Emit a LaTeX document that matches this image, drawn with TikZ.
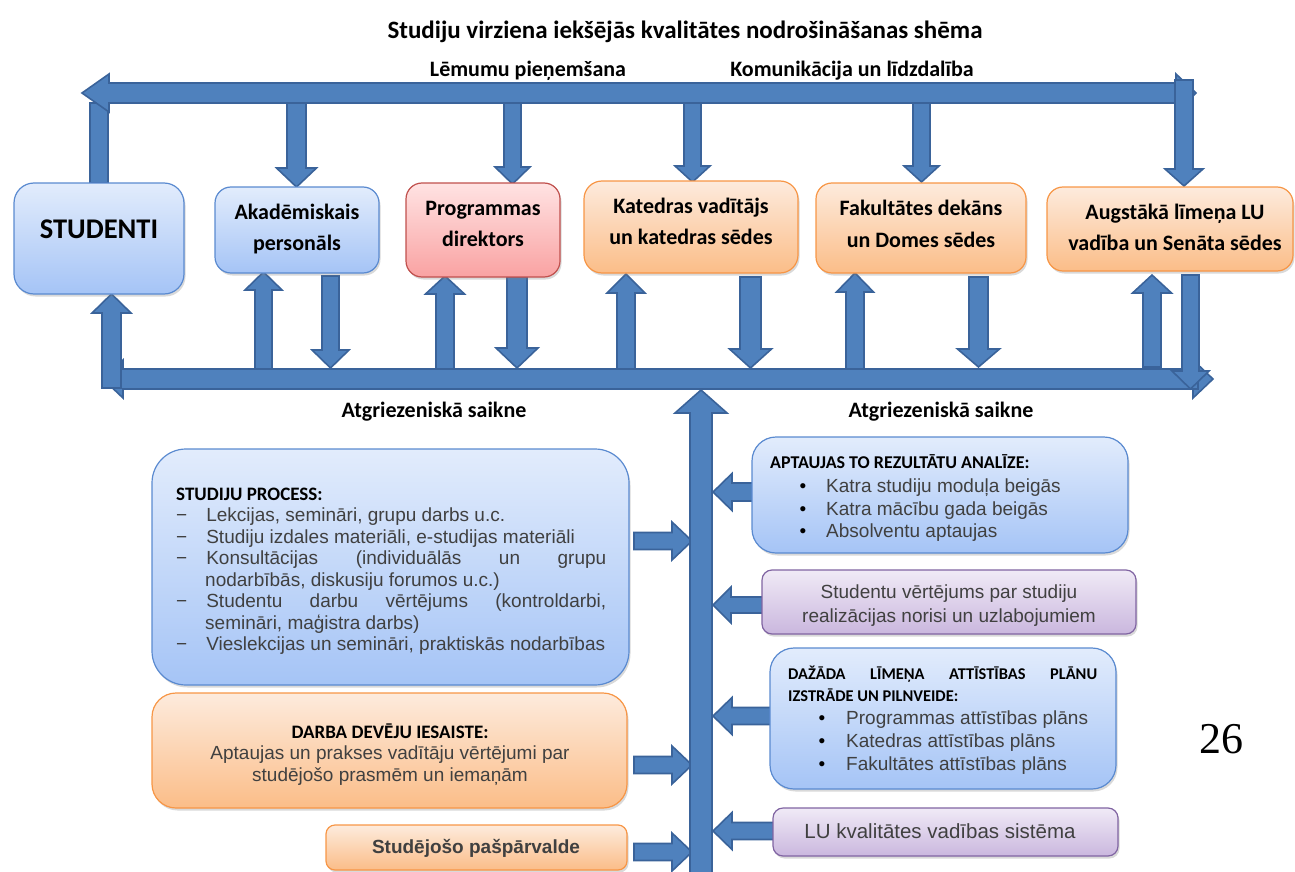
\documentclass[tikz,border=0pt]{standalone}
\usepackage{fontspec}
\setmainfont{Carlito}
\newfontfamily\arialf{Liberation Sans}
\newfontfamily\timesf{Liberation Serif}
\usetikzlibrary{calc,shadows,fit}
\definecolor{arrfill}{HTML}{4F81BD}
\definecolor{arrline}{HTML}{3A639A}
\definecolor{bluetop}{HTML}{E2ECFC}
\definecolor{bluebot}{HTML}{A5C4F6}
\definecolor{bluebd}{HTML}{5A8AD0}
\definecolor{redtop}{HTML}{FFE3E3}
\definecolor{redbot}{HTML}{F9A2A2}
\definecolor{redbd}{HTML}{C0504D}
\definecolor{orgtop}{HTML}{FDEBDD}
\definecolor{orgbot}{HTML}{FBBD88}
\definecolor{orgbd}{HTML}{F79646}
\definecolor{purtop}{HTML}{F0EAF6}
\definecolor{purbot}{HTML}{CAB7DE}
\definecolor{purbd}{HTML}{8064A2}
\definecolor{txtgrey}{HTML}{404040}
\newcommand{\fs}[1]{\fontsize{#1}{#1}\selectfont}
\newcommand{\barrow}[5]{%
  \coordinate (bA) at (#1); \coordinate (bT) at (#2);
  \coordinate (bB) at ($(bT)!#5pt!(bA)$);
  \draw[blockarr] ($(bA)!#3pt!90:(bT)$) -- ($(bB)!#3pt!90:(bT)$) -- ($(bB)!#4pt!90:(bT)$) -- (bT) -- ($(bB)!#4pt!-90:(bT)$) -- ($(bB)!#3pt!-90:(bT)$) -- ($(bA)!#3pt!-90:(bT)$) -- cycle;}
\begin{document}
\begin{tikzpicture}[x=1pt,y=-1pt,
  blockarr/.style={fill=arrfill, draw=arrline, line width=1.6pt, line join=miter},
  boxbase/.style={rounded corners=#1, line width=1.2pt, inner sep=0pt,
    drop shadow={opacity=0.3, shadow xshift=1.5pt, shadow yshift=-2.5pt}},
  bluebox/.style={boxbase=#1, draw=bluebd, top color=bluetop, bottom color=bluebot},
  bluebox/.default=20pt,
  redbox/.style={boxbase=#1, draw=redbd, top color=redtop, bottom color=redbot},
  redbox/.default=20pt,
  orgbox/.style={boxbase=#1, draw=orgbd, top color=orgtop, bottom color=orgbot},
  orgbox/.default=20pt,
  purbox/.style={boxbase=#1, draw=purbd, top color=purtop, bottom color=purbot},
  purbox/.default=10pt,
  lbl/.style={inner sep=0pt, anchor=base},
  hd/.style={lbl, font=\bfseries\fs{22}},
  ar/.style={lbl, anchor=base west, font=\arialf\fs{19}, text=txtgrey},
  arc/.style={lbl, font=\arialf\fs{19}, text=txtgrey},
  bul/.style={lbl, font=\arialf\fs{19}, text=black}
]
\useasboundingbox (0,0) rectangle (1295,872);

% ---------- titles ----------
\node[lbl, font=\bfseries\fs{25}] (title) at (685,39) {Studiju virziena iekšējās kvalitātes nodrošināšanas shēma};
\node[lbl, font=\bfseries\fs{22}] (lem) at (528,77) {Lēmumu pieņemšana};
\node[lbl, font=\bfseries\fs{22}] (kom) at (852,77) {Komunikācija un līdzdalība};
\node[lbl, font=\bfseries\fs{22}] (atg1) at (434,417) {Atgriezeniskā saikne};
\node[lbl, font=\bfseries\fs{22}] (atg2) at (941,417) {Atgriezeniskā saikne};

% ---------- top bar ----------
\draw[blockarr] (90,103) rectangle (108,183);
\barrow{1172,93}{1196,93}{10}{19}{20}
\barrow{1182,93}{82,93}{10}{19}{27}
\barrow{296.5,103}{296.5,187}{9.5}{20}{19}
\barrow{512.5,103}{512.5,184}{8.5}{17.5}{17}
\barrow{692.5,103}{692.5,182}{8.5}{17.5}{16}
\barrow{921.5,103}{921.5,182}{8.5}{17.5}{16}
\barrow{1184,80}{1184,186}{9}{19}{17}

% ---------- bottom bar ----------
\barrow{1190,379}{1213,379}{10}{19}{20}
\barrow{1198,379}{103,379}{10}{19}{20}
\barrow{111.5,388}{111.5,294}{9.5}{19.5}{19}
\barrow{263.5,369}{263.5,272}{8.5}{18.5}{18}
\barrow{330.5,276}{330.5,368}{8.5}{18.5}{18}
\barrow{445,369}{445,276}{9}{19.5}{18}
\barrow{517,277}{517,368}{10}{21}{20}
\barrow{626,369}{626,274}{9}{19}{19}
\barrow{750.5,277}{750.5,368}{10.5}{21}{19}
\barrow{855,369}{855,273}{9}{18.5}{19}
\barrow{978.5,277}{978.5,367}{9.5}{21}{18}
\barrow{1152,367}{1152,275}{9}{19.5}{18}
\barrow{1190.5,275}{1190.5,389}{8.5}{18.5}{18}

% ---------- side arrows ----------
\barrow{634,541}{692,541}{8.5}{19}{20}
\barrow{634,765}{692,765}{8.5}{19}{20}
\barrow{634,852}{692,852}{8.5}{19}{20}
\barrow{760,492}{713,492}{9}{18.5}{19}
\barrow{768,605}{713,605}{8}{18}{18}
\barrow{776,716}{713,716}{8.5}{18.5}{19}
\barrow{778,831}{713,831}{8.5}{18.5}{19}
\barrow{701,880}{701,390}{11}{26}{23}

% ---------- top boxes ----------
\node[bluebox=20pt, fit={(14,183) (184,294)}] (stud) {};
\node[bluebox=16pt, fit={(215,187) (379,273)}] (akad) {};
\node[redbox=16pt, fit={(406,183) (560,277)}] (prog) {};
\node[orgbox=18pt, fit={(584,181) (798,273)}] (kat) {};
\node[orgbox=16pt, fit={(816,183) (1026,273)}] (fak) {};
\node[orgbox=16pt, fit={(1047,187) (1293,271)}] (aug) {};

\node[lbl, font=\bfseries\fs{28.5}] (studT) at (99,238.5) {STUDENTI};
\node[hd] (akad1) at (297,219.5) {Akadēmiskais};
\node[hd] (akad2) at (297,250) {personāls};
\node[hd] (prog1) at (483,215.5) {Programmas};
\node[hd] (prog2) at (483,246) {direktors};
\node[hd] (kat1) at (691,213.5) {Katedras vadītājs};
\node[hd] (kat2) at (691,244.5) {un katedras sēdes};
\node[hd] (fak1) at (921,215.5) {Fakultātes dekāns};
\node[hd] (fak2) at (921,247) {un Domes sēdes};
\node[hd] (aug1) at (1175,219.5) {Augstākā līmeņa LU};
\node[hd] (aug2) at (1175,250) {vadība un Senāta sēdes};

% ---------- left boxes ----------
\node[bluebox=34pt, fit={(152,449) (629,685)}] (sp) {};
\node[lbl, anchor=base west, font=\bfseries\fs{19}] (sp0) at (176,500) {STUDIJU PROCESS:};
\node[ar] (sp1) at (176,521.5) {−\hspace{19pt}Lekcijas, semināri, grupu darbs u.c.};
\node[ar] (sp2) at (176,543) {−\hspace{19pt}Studiju izdales materiāli, e-studijas materiāli};
\node[ar] (sp3) at (176,564.5) {−\hspace{19pt}\makebox[400pt][s]{Konsultācijas (individuālās un grupu}};
\node[ar] (sp4) at (205,586) {nodarbībās, diskusiju forumos u.c.)};
\node[ar] (sp5) at (176,607.5) {−\hspace{19pt}\makebox[400pt][s]{Studentu darbu vērtējums (kontroldarbi,}};
\node[ar] (sp6) at (205,629) {semināri, maģistra darbs)};
\node[ar] (sp7) at (176,650.5) {−\hspace{19pt}Vieslekcijas un semināri, praktiskās nodarbības};

\node[orgbox=24pt, fit={(152,693) (627,808)}] (darba) {};
\node[lbl, font=\bfseries\fs{19}] (darba0) at (390,738) {DARBA DEVĒJU IESAISTE:};
\node[arc] (darba1) at (390,759) {Aptaujas un prakses vadītāju vērtējumi par};
\node[arc] (darba2) at (390,781) {studējošo prasmēm un iemaņām};

\node[orgbox=9pt, fit={(326,825) (627,870)}] (pasp) {};
\node[arc, font=\arialf\bfseries\fs{19}] (paspT) at (476,853) {Studējošo pašpārvalde};

% ---------- right boxes ----------
\node[bluebox=24pt, fit={(752,437) (1128,553)}] (apt) {};
\node[lbl, anchor=base west, font=\bfseries\fs{18}] (apt0) at (770,468) {APTAUJAS TO REZULTĀTU ANALĪZE:};
\node[bul] (aptb1) at (803,492) {•};
\node[bul] (aptb2) at (803,515) {•};
\node[bul] (aptb3) at (803,537) {•};
\node[ar] (apt1) at (826,492) {Katra studiju moduļa beigās};
\node[ar] (apt2) at (826,515) {Katra mācību gada beigās};
\node[ar] (apt3) at (826,537) {Absolventu aptaujas};

\node[purbox=10pt, fit={(762,570) (1136,634)}] (sv) {};
\node[arc] (sv1) at (949,598) {Studentu vērtējums par studiju};
\node[arc] (sv2) at (949,622) {realizācijas norisi un uzlabojumiem};

\node[bluebox=24pt, fit={(770,648) (1116,789)}] (daz) {};
\node[lbl, anchor=base west, font=\bfseries\fs{16.4}] (daz0) at (788,679) {\makebox[309pt][s]{DAŽĀDA LĪMEŅA ATTĪSTĪBAS PLĀNU}};
\node[lbl, anchor=base west, font=\bfseries\fs{16.4}] (daz00) at (788,701) {IZSTRĀDE UN PILNVEIDE:};
\node[bul] (dazb1) at (822,724) {•};
\node[bul] (dazb2) at (822,747) {•};
\node[bul] (dazb3) at (822,770) {•};
\node[ar] (daz1) at (846,724) {Programmas attīstības plāns};
\node[ar] (daz2) at (846,747) {Katedras attīstības plāns};
\node[ar] (daz3) at (846,770) {Fakultātes attīstības plāns};

\node[purbox=10pt, fit={(773,808) (1118,856)}] (lu) {};
\node[arc, font=\arialf\fs{20.5}] (luT) at (940,838) {LU kvalitātes vadības sistēma};

\node[lbl, font=\timesf\fs{44}] (page) at (1221,753) {26};
\end{tikzpicture}
\end{document}
